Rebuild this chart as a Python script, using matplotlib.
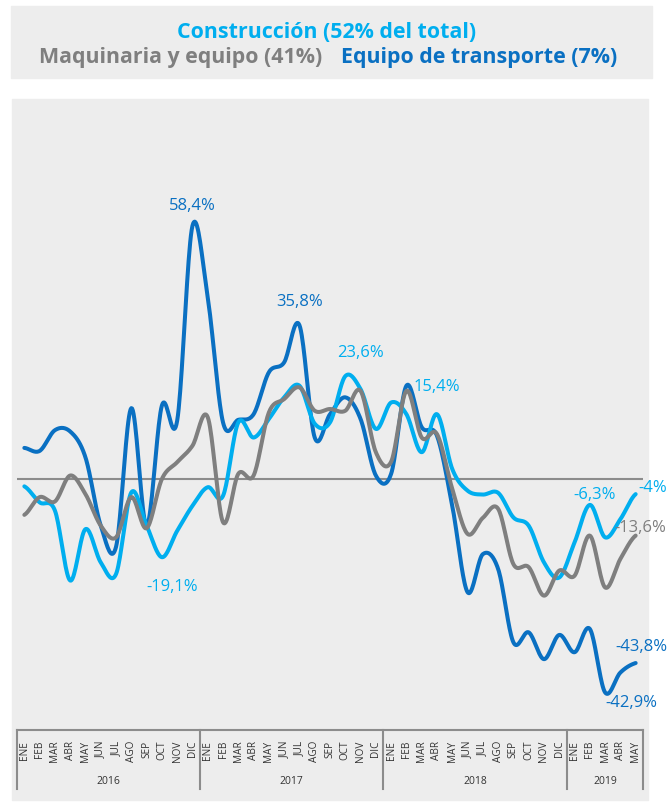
import numpy as np
import matplotlib
matplotlib.use("Agg")
import matplotlib.pyplot as plt
from matplotlib.patches import Rectangle
from matplotlib.transforms import blended_transform_factory

# ---------------- data ----------------
months = ["ENE", "FEB", "MAR", "ABR", "MAY", "JUN", "JUL", "AGO", "SEP", "OCT", "NOV", "DIC"] * 3 + \
         ["ENE", "FEB", "MAR", "ABR", "MAY"]
years = ["2016", "2017", "2018", "2019"]
year_lengths = [12, 12, 12, 5]

construccion = [-1.7, -5.4, -7.3, -23.5, -11.6, -19.3, -22.0, -3.1, -10.8, -18.1, -12.0,
                -6.2, -1.9, -3.9, 13.1, 9.6, 13.9, 18.9, 21.6, 12.8, 13.1,
                23.8, 20.8, 11.6, 17.7, 15.0, 6.2, 15.0, 2.3, -2.7, -3.6,
                -3.2, -8.9, -10.8, -19.3, -22.8, -14.7, -6.0, -13.5, -9.3, -3.5]
maquinaria = [-8.3, -4.2, -5.2, 0.8, -3.5, -10.8, -13.5, -4.2, -11.4, 0.0, 3.9,
              7.7, 14.3, -10.0, 1.2, 0.8, 15.4, 18.5, 21.2, 15.8, 16.2,
              15.8, 20.4, 6.2, 4.0, 20.4, 9.6, 10.4, -2.3, -12.7, -9.0,
              -6.9, -19.7, -20.4, -27.0, -21.2, -22.4, -13.1, -25.1, -18.5, -13.1]
transporte = [7.2, 6.5, 11.3, 11.0, 5.0, -10.8, -15.7, 16.4, -10.8, 17.0, 13.5,
              58.6, 42.0, 13.1, 13.7, 15.0, 24.7, 27.0, 35.6, 9.6, 15.0,
              18.9, 13.9, 0.8, 1.2, 21.6, 12.0, 10.0, -6.2, -26.2, -17.4,
              -20.8, -37.8, -35.5, -41.7, -36.1, -40.1, -34.7, -49.4, -44.8, -42.6]

labels = [  # (text, month index, value position, series)
    ("58,4%", 10.97, 63.4, "transporte"),
    ("35,8%", 17.98, 41.2, "transporte"),
    ("23,6%", 21.97, 29.5, "construccion"),
    ("15,4%", 27.0, 21.5, "construccion"),
    ("-19,1%", 9.7, -24.8, "construccion"),
    ("-6,3%", 37.3, -3.5, "construccion"),
    ("-4%", 41.1, -1.85, "construccion"),
    ("-13,6%", 40.3, -11.1, "maquinaria"),
    ("-43,8%", 40.4, -38.6, "transporte"),
    ("-42,9%", 39.7, -51.6, "transporte"),
]

C_CON = "#00AEEF"
C_MAQ = "#7F7F7F"
C_TRA = "#0A70C2"
colors = {"construccion": C_CON, "maquinaria": C_MAQ, "transporte": C_TRA}

FONT = "Open Sans"


def smooth(y, n=20):
    """Catmull-Rom (Excel-like) smoothing through the data points."""
    y = np.asarray(y, float)
    x = np.arange(len(y), dtype=float)
    xs, ys = [], []
    for i in range(len(y) - 1):
        p0 = y[i - 1] if i > 0 else y[i]
        p1, p2 = y[i], y[i + 1]
        p3 = y[i + 2] if i + 2 < len(y) else y[i + 1]
        t = np.linspace(0, 1, n, endpoint=False)
        c1 = p1 + (p2 - p0) / 6.0
        c2 = p2 - (p3 - p1) / 6.0
        yy = (1 - t) ** 3 * p1 + 3 * (1 - t) ** 2 * t * c1 + 3 * (1 - t) * t ** 2 * c2 + t ** 3 * p2
        xs.append(x[i] + t)
        ys.append(yy)
    xs.append([x[-1]])
    ys.append([y[-1]])
    return np.concatenate(xs), np.concatenate(ys)


W, H = 672, 803
fig = plt.figure(figsize=(W / 100, H / 100), dpi=100)
fig.patch.set_facecolor("white")


def fx(px):
    return px / W


def fy(py):
    return 1 - py / H


# title panel and chart panel backgrounds
fig.patches.append(Rectangle((fx(11), fy(79)), fx(652 - 11), (79 - 7) / H,
                             transform=fig.transFigure, color="#EDEDED", zorder=-5))
fig.patches.append(Rectangle((fx(12), fy(801)), fx(648 - 12), (801 - 100) / H,
                             transform=fig.transFigure, color="#EDEDED", zorder=-5))

# titles
TS = 15.4
fig.text(fx(327), fy(37.7), "Construcción (52% del total)", color=C_CON, fontsize=TS,
         fontweight="bold", family=FONT, ha="center", va="baseline")
fig.text(fx(322), fy(62.7), "Maquinaria y equipo (41%)", color=C_MAQ, fontsize=TS,
         fontweight="bold", family=FONT, ha="right", va="baseline")
fig.text(fx(341), fy(62.7), "Equipo de transporte (7%)", color=C_TRA, fontsize=TS,
         fontweight="bold", family=FONT, ha="left", va="baseline")

# axes
left_px, right_px = 16.7, 643.3
top_px, bottom_px = 100, 731
zero_px = 480
scale = 4.32
ax = fig.add_axes([fx(left_px), fy(bottom_px), (right_px - left_px) / W, (bottom_px - top_px) / H])
ax.set_zorder(5)
ax.set_facecolor("none")
n = len(months)
ax.set_xlim(-0.5, n - 0.5)
ax.set_ylim(-(bottom_px - zero_px) / scale, (zero_px - top_px) / scale)
for s in ["top", "right", "left"]:
    ax.spines[s].set_visible(False)
ax.spines["bottom"].set_color("#8C8C8C")
ax.spines["bottom"].set_linewidth(1.5)
ax.set_yticks([])
ax.set_xticks(range(n))
ax.set_xticklabels(months, rotation=90, fontsize=7.2, family=FONT, color="#333333", va="top")
ax.tick_params(axis="x", length=0, pad=7)

ax.axhline(0, color="#8C8C8C", lw=1.5, zorder=1)

for key, data in [("transporte", transporte), ("construccion", construccion), ("maquinaria", maquinaria)]:
    xs, ys = smooth(data)
    ax.plot(xs, ys, color=colors[key], lw=2.9, solid_capstyle="round", zorder=3)

for txt, xi, yv, key in labels:
    ax.text(xi, yv, txt, color=colors[key], fontsize=12, family=FONT, ha="center",
            va="center", clip_on=False, zorder=4)

# year separators and labels
trans = blended_transform_factory(ax.transData, ax.transAxes)
axh = bottom_px - top_px
sep_bottom = -(790 - bottom_px) / axh
start = 0
bounds = [0]
for yl in year_lengths:
    start += yl
    bounds.append(start)
for b in bounds:
    ax.plot([b - 0.5, b - 0.5], [0, sep_bottom], transform=trans, color="#8C8C8C",
            lw=1.5, clip_on=False)
for i, yr in enumerate(years):
    c = (bounds[i] + bounds[i + 1] - 1) / 2
    ax.text(c, -(782 - bottom_px) / axh, yr, transform=trans, ha="center", va="center",
            fontsize=7.5, family=FONT, color="#333333")

fig.savefig("out.png", dpi=100)
